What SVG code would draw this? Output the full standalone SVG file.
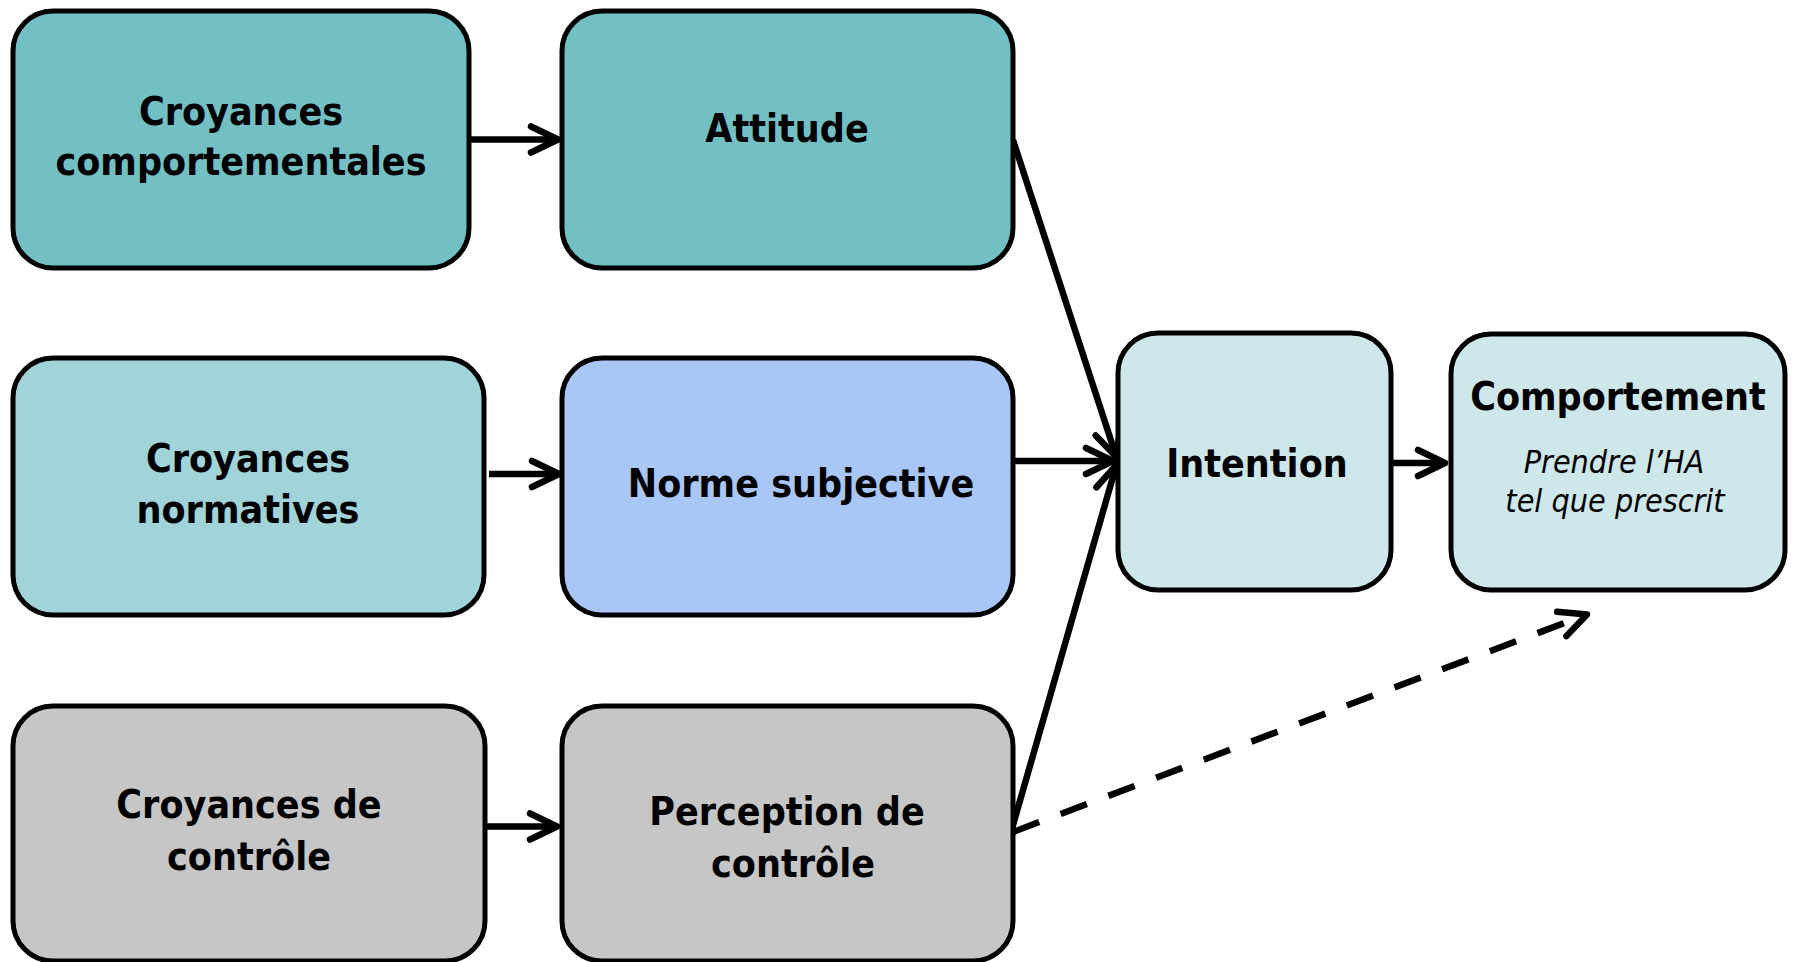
<svg xmlns="http://www.w3.org/2000/svg" width="1794" height="962" viewBox="0 0 1794 962">
<style>
.box{stroke:#000;stroke-width:5}
.t{font-family:"DejaVu Sans Condensed","DejaVu Sans",sans-serif;font-stretch:condensed;font-weight:bold;font-size:39px;fill:#000;text-anchor:middle}
.i{font-family:"DejaVu Sans Condensed","DejaVu Sans",sans-serif;font-stretch:condensed;font-style:italic;font-size:32px;fill:#000;text-anchor:middle}
.c{fill:none;stroke:#000;stroke-width:6.5;marker-end:url(#arr)}
.d{stroke-dasharray:28 23}
</style>
<defs>
<marker id="arr" markerUnits="userSpaceOnUse" markerWidth="50" markerHeight="50" viewBox="-35 -25 50 50" refX="0" refY="0" orient="auto" overflow="visible">
<path d="M-27,-13 L0,0 L-27,13" fill="none" stroke="#000" stroke-width="6.5" stroke-dasharray="none" stroke-linecap="round" stroke-linejoin="round"/>
</marker>
</defs>
<rect width="1794" height="962" fill="#fff"/>
<g id="connectors">
<path class="c" d="M471,139.5 L558,139.5"/>
<path class="c" d="M489,474 L559,474"/>
<path class="c" d="M487,826.5 L557,826.5"/>
<path class="c" d="M1393,463 L1445,463"/>
<path class="c" d="M1013,140 L1116.4,457.1"/>
<path class="c" d="M1015,461 L1113,461"/>
<path class="c" d="M1011,832 L1116.4,464.9"/>
<path class="c d" d="M1013,832 L1587,614.4"/>
</g>
<g id="croyances-comportementales">
<rect class="box" x="13" y="11" width="456" height="257" rx="40" fill="#72BFC4"/>
<text class="t" x="241" y="125">Croyances</text>
<text class="t" x="241" y="175">comportementales</text>
</g>
<g id="attitude">
<rect class="box" x="562" y="11" width="451" height="257" rx="40" fill="#72BFC4"/>
<text class="t" x="787" y="142">Attitude</text>
</g>
<g id="croyances-normatives">
<rect class="box" x="13" y="358" width="471" height="257" rx="40" fill="#A0D4D8"/>
<text class="t" x="248" y="472">Croyances</text>
<text class="t" x="248" y="523">normatives</text>
</g>
<g id="norme-subjective">
<rect class="box" x="562" y="358" width="451" height="257" rx="40" fill="#A8C6F6"/>
<text class="t" x="801" y="497">Norme subjective</text>
</g>
<g id="croyances-controle">
<rect class="box" x="13" y="706" width="472" height="255" rx="40" fill="#C6C6C6"/>
<text class="t" x="249" y="818">Croyances de</text>
<text class="t" x="249" y="870">contrôle</text>
</g>
<g id="perception-controle">
<rect class="box" x="562" y="706" width="451" height="255" rx="40" fill="#C6C6C6"/>
<text class="t" x="787" y="825">Perception de</text>
<text class="t" x="793" y="877">contrôle</text>
</g>
<g id="intention">
<rect class="box" x="1118" y="333" width="273" height="257" rx="40" fill="#CEE7EA"/>
<text class="t" x="1257" y="477">Intention</text>
</g>
<g id="comportement">
<rect class="box" x="1451" y="334" width="334" height="256" rx="40" fill="#CEE7EA"/>
<text class="t" x="1618" y="410">Comportement</text>
<text class="i" x="1614" y="473">Prendre l’HA</text>
<text class="i" x="1615" y="512">tel que prescrit</text>
</g>
</svg>
